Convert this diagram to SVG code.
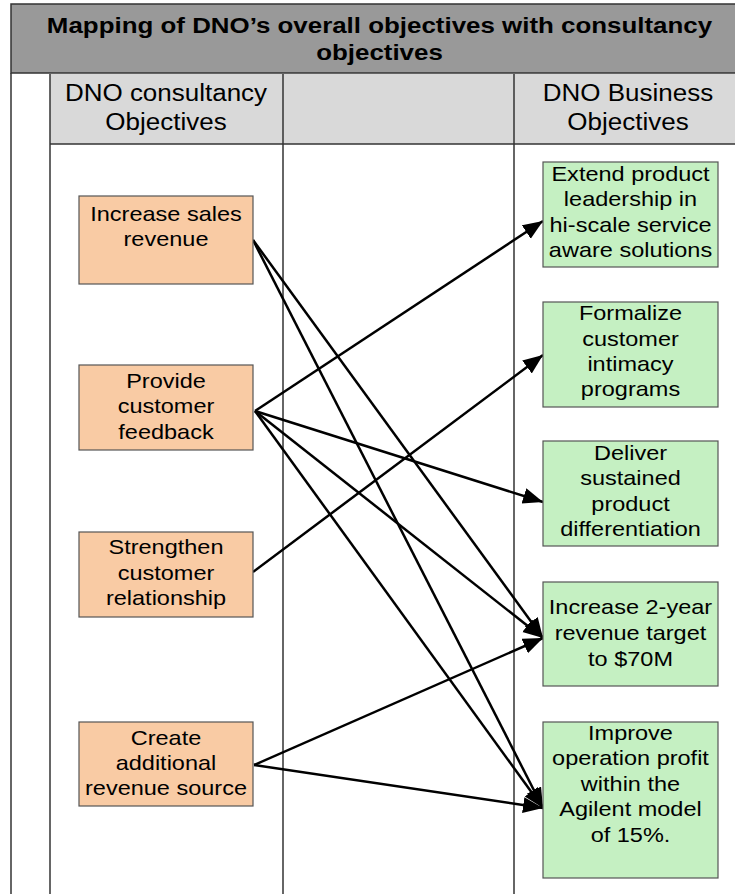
<svg xmlns="http://www.w3.org/2000/svg" width="735" height="894" viewBox="0 0 735 894">
<style>
.frame{stroke:#333;stroke-width:1.5;fill:none}
.src{fill:#f9cba4;stroke:#555;stroke-width:1.2}
.dst{fill:#c5f0c2;stroke:#555;stroke-width:1.2}
.t{font-family:"Liberation Sans",Arial,sans-serif;font-size:21px;fill:#000;text-anchor:middle}
.h{font-family:"Liberation Sans",Arial,sans-serif;font-size:23px;fill:#000;text-anchor:middle}
.ti{font-family:"Liberation Sans",Arial,sans-serif;font-size:21.5px;font-weight:bold;fill:#000;text-anchor:middle}
.c{stroke:#000;stroke-width:2.5;fill:none;marker-end:url(#ah)}
</style>
<defs>
<marker id="ah" markerUnits="userSpaceOnUse" markerWidth="22" markerHeight="18" refX="20" refY="8" orient="auto">
<path d="M0,0 L20,8 L0,16 z" fill="#000"/>
</marker>
</defs>
<rect width="735" height="894" fill="#fff"/>
<g id="frame">
<rect x="11" y="4" width="730" height="69" fill="#999" stroke="#333" stroke-width="1.5"/>
<rect x="50" y="74" width="690" height="70" fill="#d9d9d9" stroke="none"/>
<line class="frame" x1="11" y1="73" x2="11" y2="894"/>
<line class="frame" x1="50" y1="74" x2="50" y2="894"/>
<line class="frame" x1="283" y1="74" x2="283" y2="894"/>
<line class="frame" x1="514" y1="74" x2="514" y2="894"/>
<line class="frame" x1="50" y1="144" x2="735" y2="144"/>
<text class="ti" transform="translate(379.5 0) scale(1.205 1)"><tspan x="0" y="33">Mapping of DNO’s overall objectives with consultancy</tspan><tspan x="0" y="60">objectives</tspan></text>
<text class="h" transform="translate(166 0) scale(1.13 1)"><tspan x="0" y="101.5">DNO consultancy</tspan><tspan x="0" y="130">Objectives</tspan></text>
<text class="h" transform="translate(628 0) scale(1.13 1)"><tspan x="0" y="101.5">DNO Business</tspan><tspan x="0" y="130">Objectives</tspan></text>
</g>
<g id="connectors">
<line class="c" x1="253" y1="240" x2="543" y2="638"/>
<line class="c" x1="253" y1="240" x2="543" y2="808"/>
<line class="c" x1="255" y1="411" x2="543" y2="221"/>
<line class="c" x1="255" y1="411" x2="543" y2="502"/>
<line class="c" x1="255" y1="411" x2="543" y2="638"/>
<line class="c" x1="255" y1="411" x2="543" y2="808"/>
<line class="c" x1="253" y1="572" x2="543" y2="355"/>
<line class="c" x1="254" y1="765" x2="543" y2="638"/>
<line class="c" x1="254" y1="765" x2="543" y2="808"/>
</g>
<g id="src1"><rect class="src" x="79" y="196" width="174" height="88"/>
<text class="t" transform="translate(166 0) scale(1.12 1)"><tspan x="0" y="221">Increase sales</tspan><tspan x="0" y="246">revenue</tspan></text></g>
<g id="src2"><rect class="src" x="79" y="365" width="174" height="85"/>
<text class="t" transform="translate(166 0) scale(1.12 1)"><tspan x="0" y="388">Provide</tspan><tspan x="0" y="413.5">customer</tspan><tspan x="0" y="439">feedback</tspan></text></g>
<g id="src3"><rect class="src" x="79" y="532" width="174" height="85"/>
<text class="t" transform="translate(166 0) scale(1.12 1)"><tspan x="0" y="554">Strengthen</tspan><tspan x="0" y="580">customer</tspan><tspan x="0" y="605">relationship</tspan></text></g>
<g id="src4"><rect class="src" x="79" y="722" width="174" height="84"/>
<text class="t" transform="translate(166 0) scale(1.12 1)"><tspan x="0" y="745">Create</tspan><tspan x="0" y="770">additional</tspan><tspan x="0" y="795">revenue source</tspan></text></g>
<g id="dst1"><rect class="dst" x="543" y="162" width="175" height="105"/>
<text class="t" transform="translate(630.5 0) scale(1.12 1)"><tspan x="0" y="181">Extend product</tspan><tspan x="0" y="206.5">leadership in</tspan><tspan x="0" y="232">hi-scale service</tspan><tspan x="0" y="257.5">aware solutions</tspan></text></g>
<g id="dst2"><rect class="dst" x="543" y="302" width="175" height="105"/>
<text class="t" transform="translate(630.5 0) scale(1.12 1)"><tspan x="0" y="320.5">Formalize</tspan><tspan x="0" y="346">customer</tspan><tspan x="0" y="371.5">intimacy</tspan><tspan x="0" y="396.5">programs</tspan></text></g>
<g id="dst3"><rect class="dst" x="543" y="441" width="175" height="105"/>
<text class="t" transform="translate(630.5 0) scale(1.12 1)"><tspan x="0" y="460">Deliver</tspan><tspan x="0" y="485.5">sustained</tspan><tspan x="0" y="511">product</tspan><tspan x="0" y="536.5">differentiation</tspan></text></g>
<g id="dst4"><rect class="dst" x="543" y="582" width="175" height="104"/>
<text class="t" transform="translate(630.5 0) scale(1.12 1)"><tspan x="0" y="614">Increase 2-year</tspan><tspan x="0" y="640">revenue target</tspan><tspan x="0" y="666">to $70M</tspan></text></g>
<g id="dst5"><rect class="dst" x="543" y="722" width="175" height="156"/>
<text class="t" transform="translate(630.5 0) scale(1.12 1)"><tspan x="0" y="740">Improve</tspan><tspan x="0" y="765">operation profit</tspan><tspan x="0" y="791">within the</tspan><tspan x="0" y="816.5">Agilent model</tspan><tspan x="0" y="842.5">of 15%.</tspan></text></g>
</svg>
